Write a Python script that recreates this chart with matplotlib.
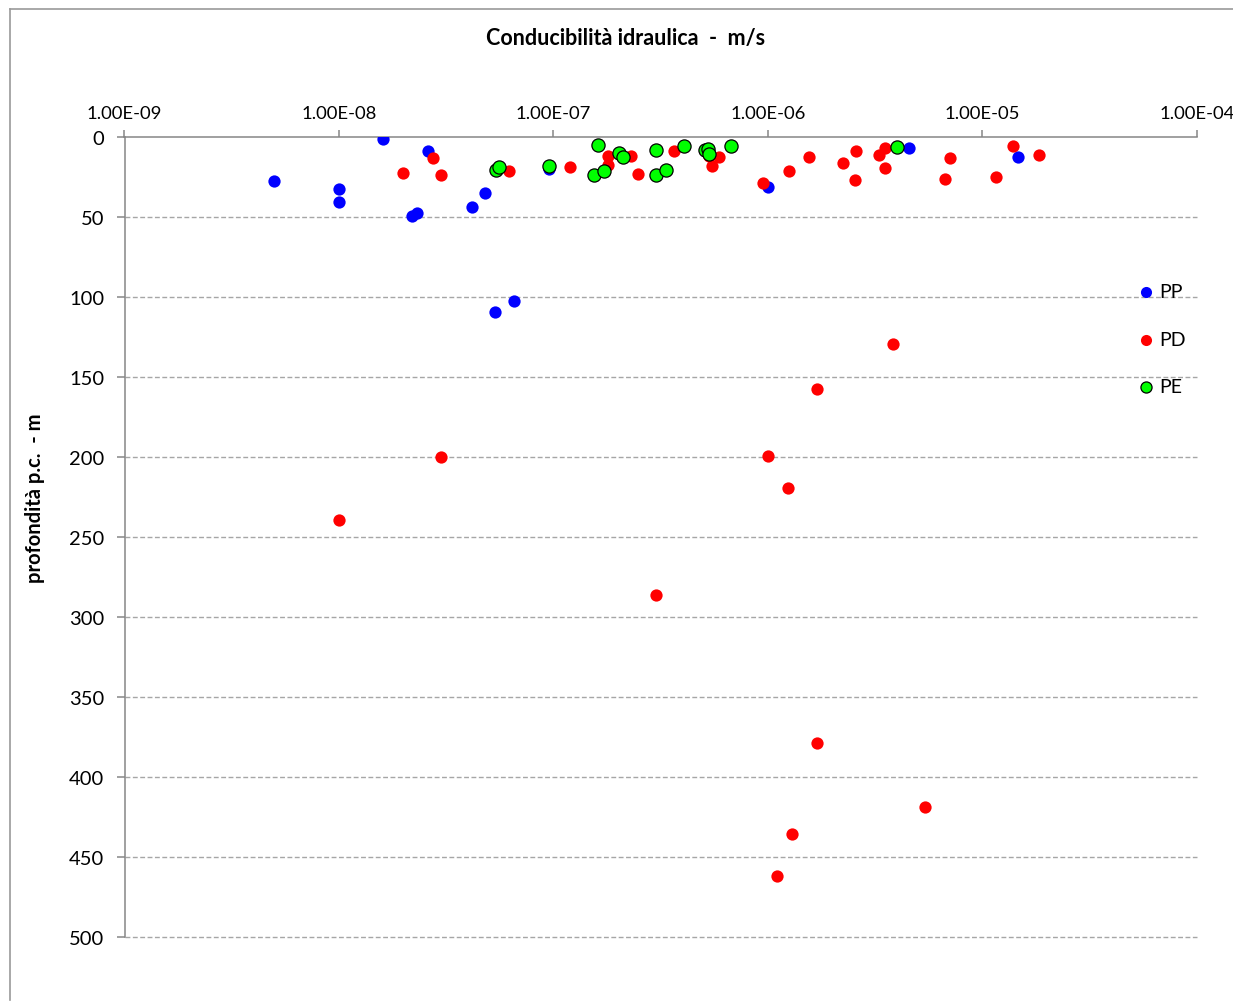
import matplotlib
matplotlib.use("Agg")
import matplotlib.pyplot as plt
from matplotlib.lines import Line2D
from matplotlib.ticker import FixedLocator, FuncFormatter, NullLocator

plt.rcParams['font.family'] = ['Lato', 'DejaVu Sans']

# Hydraulic conductivity (m/s) and depth below ground level (m)
pp_k = [5.0e-9, 1.0e-8, 1.0e-8, 1.6e-8, 2.6e-8, 2.19e-8, 2.3e-8, 4.19e-8, 4.8e-8,
        5.35e-8, 6.56e-8, 9.57e-8, 1.0e-6, 4.57e-6, 1.47e-5]
pp_depth = [27.3, 32.5, 40.2, 1.0, 8.6, 49.0, 47.2, 43.8, 35.0,
            109.3, 102.3, 19.8, 31.3, 6.5, 12.1]

pd_k = [2.0e-8, 2.74e-8, 2.99e-8, 6.24e-8, 1.2e-7, 1.8e-7, 1.8e-7, 2.3e-7, 2.49e-7,
        3.64e-7, 5.34e-7, 5.94e-7, 5.52e-7, 9.53e-7, 1.26e-6, 1.55e-6, 2.25e-6,
        2.58e-6, 2.55e-6, 3.3e-6, 3.51e-6, 3.51e-6, 7.08e-6, 6.71e-6, 1.16e-5,
        1.39e-5, 1.84e-5,
        3.84e-6, 1.70e-6, 1.0e-6, 1.245e-6, 3.0e-8, 1.0e-8, 3.0e-7, 1.69e-6,
        5.42e-6, 1.30e-6, 1.10e-6]
pd_depth = [22.5, 12.75, 23.6, 21.0, 18.6, 11.9, 17.3, 11.5, 22.7,
            8.4, 11.5, 12.1, 17.7, 28.6, 21.3, 12.5, 15.9,
            8.3, 26.7, 10.9, 6.7, 19.4, 12.75, 26.3, 24.6,
            5.2, 11.25,
            129.4, 157.0, 199.0, 219.4, 199.6, 239.2, 286.3, 378.4,
            418.8, 435.4, 461.9]

pe_k = [5.38e-8, 5.6e-8, 9.5e-8, 1.62e-7, 1.55e-7, 1.73e-7, 2.03e-7, 2.12e-7,
        3.01e-7, 3.0e-7, 3.34e-7, 4.08e-7, 5.10e-7, 5.24e-7, 5.34e-7, 6.75e-7, 4.0e-6]
pe_depth = [20.4, 18.6, 17.7, 4.6, 23.6, 21.3, 9.8, 12.3,
            7.7, 23.6, 20.3, 5.6, 7.7, 7.4, 10.2, 5.2, 6.25]

x_ticks = [1e-9, 1e-8, 1e-7, 1e-6, 1e-5, 1e-4]
y_ticks = [0, 50, 100, 150, 200, 250, 300, 350, 400, 450, 500]

W, H = 1233, 1003
fig = plt.figure(figsize=(W / 100, H / 100), dpi=100)
fig.patch.set_facecolor('white')

ax = fig.add_axes([124.5 / W, 1 - 938.3 / H, (1196.7 - 124.5) / W, 800 / H])

ax.scatter(pp_k, pp_depth, s=78, color='#0000ff', linewidths=0, zorder=3, label='PP')
ax.scatter(pd_k, pd_depth, s=78, color='#ff0000', linewidths=0, zorder=3, label='PD')
ax.scatter(pe_k, pe_depth, s=90, color='#00ff00', edgecolors='black', linewidths=0.9,
           zorder=3, label='PE')

ax.set_xscale('log')
ax.set_xlim(1e-9, 1e-4)
ax.set_ylim(500, 0)

ax.xaxis.tick_top()
ax.xaxis.set_major_locator(FixedLocator(x_ticks))
ax.xaxis.set_minor_locator(NullLocator())
ax.xaxis.set_major_formatter(FuncFormatter(lambda v, p: f"{v:.2E}"))
ax.yaxis.set_major_locator(FixedLocator(y_ticks))

for side in ('right', 'bottom'):
    ax.spines[side].set_visible(False)
for side in ('left', 'top'):
    ax.spines[side].set_color('#868686')
    ax.spines[side].set_linewidth(1.1)

ax.tick_params(axis='x', which='major', direction='out', length=5, width=1.1,
               color='#868686', labelsize=13.3, pad=7, labelcolor='black')
ax.tick_params(axis='y', which='major', direction='out', length=5.5, width=1.1,
               color='#868686', labelsize=14.5, pad=9, labelcolor='black')

ax.set_axisbelow(True)
ax.yaxis.grid(True, color='#a6a6a6', linewidth=1.0, linestyle=(0, (3.5, 1.8)))
ax.xaxis.grid(False)
grid_lines = ax.yaxis.get_gridlines()
for gl in grid_lines:
    gl.set_clip_on(False)
grid_lines[0].set_visible(False)

leg = ax.legend(loc='upper left', bbox_to_anchor=(1139 / W, 1 - 284 / H),
                bbox_transform=fig.transFigure, frameon=False, fontsize=14,
                handlelength=0.7, handletextpad=0.35, labelspacing=1.58,
                borderaxespad=0, borderpad=0, scatterpoints=1)
for h in leg.legend_handles:
    h.set_sizes([64])

fig.text(626 / W, 1 - 38 / H, "Conducibilità idraulica  -  m/s", ha='center', va='center',
         fontsize=15.5, fontweight='bold')
fig.text(35 / W, 1 - 498 / H, "profondità p.c.  - m", ha='center', va='center',
         rotation=90, fontsize=14.5, fontweight='bold')

# chart area frame
fig.add_artist(Line2D([9.5 / W, 9.5 / W], [1 - 10 / H, 1 - 1001 / H],
                      transform=fig.transFigure, color='#9a9a9a', linewidth=1.2))
fig.add_artist(Line2D([9.5 / W, 1.0], [1 - 10 / H, 1 - 10 / H],
                      transform=fig.transFigure, color='#9a9a9a', linewidth=1.2))

fig.savefig('out.png', dpi=100, facecolor='white')
